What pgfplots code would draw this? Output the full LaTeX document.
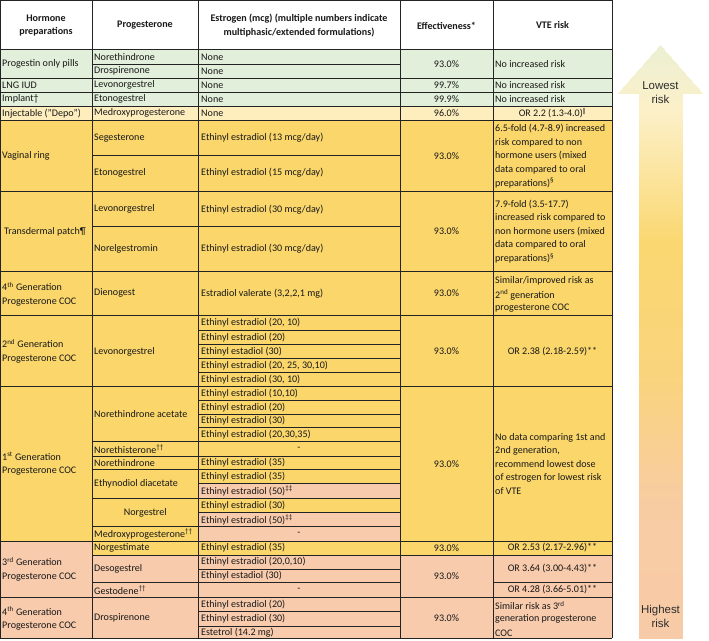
\documentclass[border=0pt]{standalone}
\usepackage{pgfplots}
\pgfplotsset{compat=1.18}
\usepackage{fontspec}
\setmainfont{Carlito}
\newfontfamily\arrowfont{Liberation Sans}
\definecolor{cgreen}{RGB}{226,239,218}
\definecolor{clight}{RGB}{254,238,190}
\definecolor{cgold}{RGB}{250,214,107}
\definecolor{cpink}{RGB}{248,203,173}
\definecolor{linec}{RGB}{35,35,35}
\definecolor{txt}{RGB}{25,25,25}
\newcommand\tabfont{\fontsize{10.1}{13.5}\selectfont\color{txt}}
\newcommand\cell[5]{\addplot[fill=#5,draw=none] coordinates {(#1,#2) (#3,#2) (#3,#4) (#1,#4)};}
\newcommand\hl[3]{\addplot[draw=linec,line width=0.65pt] coordinates {(#1,#3) (#2,#3)};}
\newcommand\vl[1]{\addplot[draw=linec,line width=0.65pt] coordinates {(#1,0) (#1,638.3)};}
\newcommand\tl[3]{\node[anchor=west,inner sep=0pt,font=\tabfont] at (axis cs:#1,#2) {#3};}
\newcommand\tc[3]{\node[anchor=center,inner sep=0pt,font=\tabfont] at (axis cs:#1,#2) {#3};}
\newcommand\tml[3]{\node[anchor=west,inner sep=0pt,align=left,font=\tabfont] at (axis cs:#1,#2) {#3};}
\newcommand\thd[3]{\node[anchor=center,inner sep=0pt,align=center,font=\tabfont\bfseries] at (axis cs:#1,#2) {#3};}
\begin{document}
\begin{tikzpicture}
\begin{axis}[width=709bp,height=641bp,scale only axis,
  xmin=0,xmax=709,ymin=0,ymax=641,y dir=reverse,hide axis,clip=false,
  colormap={risk}{rgb255(0cm)=(236,240,212); rgb255(1cm)=(252,240,200); rgb255(3cm)=(250,215,112); rgb255(5cm)=(250,212,125); rgb255(7cm)=(248,204,163); rgb255(9cm)=(248,203,168)},
  point meta min=45, point meta max=638]
% cell fills
\cell{0}{0}{612}{49.5}{white}
\cell{0}{49.5}{612}{106}{cgreen}
\cell{0}{106}{612}{120.7}{clight}
\cell{0}{120.7}{612}{541}{cgold}
\cell{0}{541}{612}{638.3}{cpink}
\cell{198.5}{483.3}{400}{498.3}{cpink}
\cell{198.5}{512.7}{400}{541}{cpink}
\cell{92}{541}{612}{555}{cgold}
% arrow
\addplot[patch,patch type=triangle,shader=interp,point meta=explicit]
 table[x=x,y=y,meta=c,row sep=\\]{x y c\\
 660 45 45\\ 618 93 93\\ 702 93 93\\
 639 92 92\\ 682 92 92\\ 682 638 638\\
 639 92 92\\ 682 638 638\\ 639 638 638\\};
% horizontal lines
\hl{0}{612}{0}
\hl{0}{612}{49.5}
\hl{92}{400}{64.3}
\hl{0}{612}{78.3}
\hl{0}{612}{92.3}
\hl{0}{612}{106}
\hl{0}{612}{120.7}
\hl{92}{400}{155}
\hl{0}{612}{191.7}
\hl{92}{400}{226.7}
\hl{0}{612}{271}
\hl{0}{612}{315.7}
\hl{198.5}{400}{330}
\hl{198.5}{400}{344.3}
\hl{198.5}{400}{358.3}
\hl{198.5}{400}{372.7}
\hl{0}{612}{386.7}
\hl{198.5}{400}{400}
\hl{198.5}{400}{414.3}
\hl{198.5}{400}{427.7}
\hl{92}{400}{441.7}
\hl{92}{400}{456}
\hl{92}{400}{469.3}
\hl{198.5}{400}{483.3}
\hl{92}{400}{498.3}
\hl{198.5}{400}{512.7}
\hl{92}{400}{526.7}
\hl{0}{612}{541}
\hl{92}{612}{555}
\hl{198.5}{400}{569}
\hl{92}{400}{582.7}
\hl{493}{612}{582.7}
\hl{0}{612}{597.7}
\hl{198.5}{400}{611.7}
\hl{198.5}{400}{626}
\hl{0}{612}{638.3}
\vl{0}\vl{92}\vl{198.5}\vl{400}\vl{493}\vl{612}
% header
\thd{46}{25.5}{Hormone\\preparations}
\thd{145}{25.5}{Progesterone}
\thd{299}{25.5}{Estrogen (mcg) (multiple numbers indicate\\multiphasic/extended formulations)}
\thd{446.5}{25.5}{Effectiveness*}
\thd{552.5}{25.5}{VTE risk}
% hormone column
\tl{2}{64}{Progestin only pills}
\tl{2}{85.3}{LNG IUD}
\tl{2}{99.2}{Implant†}
\tl{2}{113.3}{Injectable ("Depo")}
\tl{2}{156}{Vaginal ring}
\tl{4}{231.5}{Transdermal patch¶}
\tml{2}{294}{4\textsuperscript{th} Generation\\Progesterone COC}
\tml{2}{351.3}{2\textsuperscript{nd} Generation\\Progesterone COC}
\tml{2}{464}{1\textsuperscript{st} Generation\\Progesterone COC}
\tml{2}{569.3}{3\textsuperscript{rd} Generation\\Progesterone COC}
\tml{2}{618.5}{4\textsuperscript{th} Generation\\Progesterone COC}
% progesterone column
\tl{94}{57.2}{Norethindrone}
\tl{94}{71.3}{Drospirenone}
\tl{94}{85.3}{Levonorgestrel}
\tl{94}{99.2}{Etonogestrel}
\tl{94}{113.3}{Medroxyprogesterone}
\tl{94}{138}{Segesterone}
\tl{94}{173}{Etonogestrel}
\tl{94}{209.3}{Levonorgestrel}
\tl{94}{249}{Norelgestromin}
\tl{94}{293.3}{Dienogest}
\tl{94}{351.7}{Levonorgestrel}
\tl{94}{414}{Norethindrone acetate}
\tl{94}{448.8}{Norethisterone\textsuperscript{††}}
\tl{94}{462.7}{Norethindrone}
\tl{94}{484}{Ethynodiol diacetate}
\tc{145.3}{513}{Norgestrel}
\tl{94}{533.8}{Medroxyprogesterone\textsuperscript{††}}
\tl{94}{548}{Norgestimate}
\tl{94}{569}{Desogestrel}
\tl{94}{590.2}{Gestodene\textsuperscript{††}}
\tl{94}{618}{Drospirenone}
% estrogen column
\tl{201}{57.2}{None}
\tl{201}{71.3}{None}
\tl{201}{85.3}{None}
\tl{201}{99.2}{None}
\tl{201}{113.3}{None}
\tl{201}{138}{Ethinyl estradiol (13 mcg/day)}
\tl{201}{173}{Ethinyl estradiol (15 mcg/day)}
\tl{201}{209.3}{Ethinyl estradiol (30 mcg/day)}
\tl{201}{249}{Ethinyl estradiol (30 mcg/day)}
\tl{201}{293.3}{Estradiol valerate (3,2,2,1 mg)}
\tl{201}{322.9}{Ethinyl estradiol (20, 10)}
\tl{201}{337.2}{Ethinyl estradiol (20)}
\tl{201}{351.3}{Ethinyl estadiol (30)}
\tl{201}{365.5}{Ethinyl estradiol (20, 25, 30,10)}
\tl{201}{379.7}{Ethinyl estradiol (30, 10)}
\tl{201}{393.4}{Ethinyl estradiol (10,10)}
\tl{201}{407.2}{Ethinyl estradiol (20)}
\tl{201}{421}{Ethinyl estradiol (30)}
\tl{201}{434.7}{Ethinyl estradiol (20,30,35)}
\tc{299}{448.8}{-}
\tl{201}{462.7}{Ethinyl estradiol (35)}
\tl{201}{476.3}{Ethinyl estradiol (35)}
\tl{201}{490.8}{Ethinyl estradiol (50)\textsuperscript{‡‡}}
\tl{201}{505.5}{Ethinyl estradiol (30)}
\tl{201}{519.7}{Ethinyl estradiol (50)\textsuperscript{‡‡}}
\tc{299}{533.8}{-}
\tl{201}{548}{Ethinyl estradiol (35)}
\tl{201}{562}{Ethinyl estradiol (20,0,10)}
\tl{201}{575.8}{Ethinyl estadiol (30)}
\tc{299}{590.2}{-}
\tl{201}{604.7}{Ethinyl estradiol (20)}
\tl{201}{618.8}{Ethinyl estradiol (30)}
\tl{201}{632.2}{Estetrol (14.2 mg)}
% effectiveness
\tc{446.5}{64}{93.0\%}
\tc{446.5}{85.3}{99.7\%}
\tc{446.5}{99.2}{99.9\%}
\tc{446.5}{113.3}{96.0\%}
\tc{446.5}{156}{93.0\%}
\tc{446.5}{231.5}{93.0\%}
\tc{446.5}{293.3}{93.0\%}
\tc{446.5}{351.5}{93.0\%}
\tc{446.5}{464}{93.0\%}
\tc{446.5}{548}{93.0\%}
\tc{446.5}{576.3}{93.0\%}
\tc{446.5}{618}{93.0\%}
% VTE risk
\tl{495}{64}{No increased risk}
\tl{495}{85.3}{No increased risk}
\tl{495}{99.2}{No increased risk}
\tc{552.5}{113.3}{OR 2.2 (1.3-4.0)\textsuperscript{‖}}
\tl{495}{129}{6.5-fold (4.7-8.9) increased}
\tl{495}{142.5}{risk compared to non}
\tl{495}{156}{hormone users (mixed}
\tl{495}{169.5}{data compared to oral}
\tl{495}{183}{preparations)\textsuperscript{§}}
\tl{495}{204.5}{7.9-fold (3.5-17.7)}
\tl{495}{218}{increased risk compared to}
\tl{495}{231.5}{non hormone users (mixed}
\tl{495}{245}{data compared to oral}
\tl{495}{258.5}{preparations)\textsuperscript{§}}
\tl{495}{281}{Similar/improved risk as}
\tl{495}{295}{2\textsuperscript{nd} generation}
\tl{495}{308.5}{progesterone COC}
\tc{552.5}{351.5}{OR 2.38 (2.18-2.59)**}
\tl{495}{437.5}{No data comparing 1st and}
\tl{495}{451}{2nd generation,}
\tl{495}{464.5}{recommend lowest dose}
\tl{495}{478}{of estrogen for lowest risk}
\tl{495}{491.5}{of VTE}
\tc{552.5}{548}{OR 2.53 (2.17-2.96)**}
\tc{552.5}{569}{OR 3.64 (3.00-4.43)**}
\tc{552.5}{590}{OR 4.28 (3.66-5.01)**}
\tl{495}{605.5}{Similar risk as 3\textsuperscript{rd}}
\tl{495}{619.3}{generation progesterone}
\tl{495}{633}{COC}
% arrow labels
\node[align=center,inner sep=0pt,font=\arrowfont\fontsize{11.5}{14}\selectfont,text={rgb,255:red,45;green,45;blue,45}] at (axis cs:660.5,93) {Lowest\\risk};
\node[align=center,inner sep=0pt,font=\arrowfont\fontsize{11.5}{14}\selectfont,text={rgb,255:red,45;green,45;blue,45}] at (axis cs:660.5,616) {Highest\\risk};
\end{axis}
\pgfresetboundingbox
\path[use as bounding box] (0,0) rectangle (709bp,641bp);
\end{tikzpicture}
\end{document}
